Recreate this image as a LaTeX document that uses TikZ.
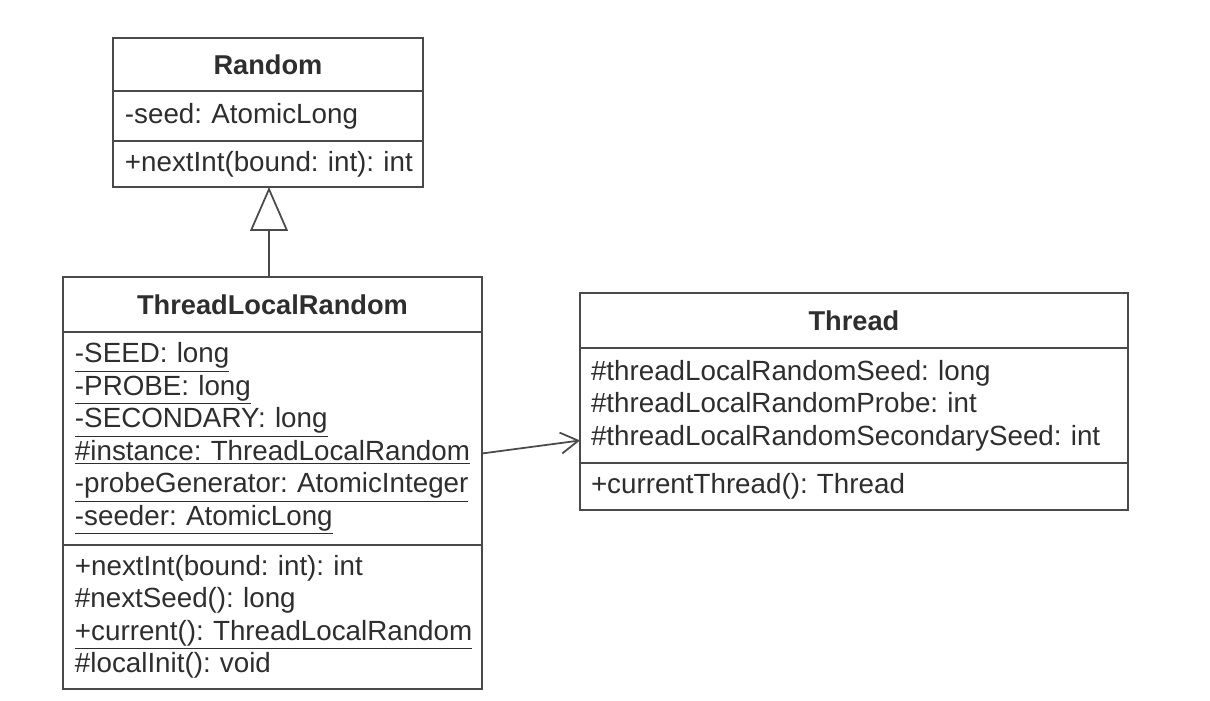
\documentclass[tikz,border=0pt]{standalone}
\usepackage{fontspec}
\setmainfont{Liberation Sans}
\definecolor{umlline}{HTML}{4A4A4A}
\definecolor{umltext}{HTML}{2E2E2E}
\usetikzlibrary{arrows.meta, positioning, calc}
\frenchspacing

\tikzset{
  umlpart/.style={draw=umlline, line width=1pt, fill=white, outer sep=0pt,
    inner ysep=0pt, inner xsep=0.24cm, align=left, text=umltext,
    font=\fontsize{15.8}{18.5}\selectfont},
  umltitle/.style={umlpart, align=center, font=\fontsize{15.5}{18.5}\selectfont\bfseries},
}

\begin{document}
\begin{tikzpicture}[x=0.02cm, y=-0.02cm, >=Stealth]
  \useasboundingbox (0,0) rectangle (1210,700);

  % Random
  \node[umltitle, anchor=north west, text width=5.72cm, minimum height=1.06cm]
    (random) at (113,38) {Random};
  \node[umlpart, below=0pt of random, text width=5.72cm, minimum height=1.0cm]
    (randomattr) {-seed: AtomicLong};
  \node[umlpart, below=0pt of randomattr, text width=5.72cm, minimum height=0.92cm]
    (randomops) {\mbox{+nextInt(bound: int): int}};

  % ThreadLocalRandom
  \node[umltitle, anchor=north west, text width=7.9cm, minimum height=1.1cm]
    (tlr) at (63,277) {ThreadLocalRandom};
  \node[umlpart, below=0pt of tlr, text width=7.9cm, minimum height=4.26cm]
    (tlrattr) {\underline{-SEED: long}\\
               \underline{-PROBE: long}\\
               \underline{-SECONDARY: long}\\
               \underline{\#instance: ThreadLocalRandom}\\
               \underline{-probeGenerator: AtomicInteger}\\
               \underline{-seeder: AtomicLong}};
  \node[umlpart, below=0pt of tlrattr, text width=7.9cm, minimum height=2.88cm]
    (tlrops) {+nextInt(bound: int): int\\
              \#nextSeed(): long\\
              \underline{+current(): ThreadLocalRandom}\\
              \#localInit(): void};

  % Thread
  \node[umltitle, anchor=north west, text width=10.52cm, inner xsep=0.22cm, minimum height=1.1cm]
    (thread) at (580,293) {Thread};
  \node[umlpart, below=0pt of thread, text width=10.52cm, inner xsep=0.22cm, minimum height=2.3cm]
    (threadattr) {\#threadLocalRandomSeed: long\\
                  \#threadLocalRandomProbe: int\\
                  \#threadLocalRandomSecondarySeed: int};
  \node[umlpart, below=0pt of threadattr, text width=10.52cm, inner xsep=0.22cm, minimum height=0.94cm]
    (threadops) {+currentThread(): Thread};

  % inheritance and association
  \draw[umlline, line width=1pt, -{Triangle[open, length=25pt, width=21.5pt]}]
    (tlr.north -| 269,0) -- (randomops.south -| 269,0);
  \draw[umlline, line width=1pt, -{Straight Barb[length=10pt, width=12pt]}]
    ($(tlrattr.east)+(0,15)$) -- ($(threadattr.west)+(0,35)$);
\end{tikzpicture}
\end{document}
